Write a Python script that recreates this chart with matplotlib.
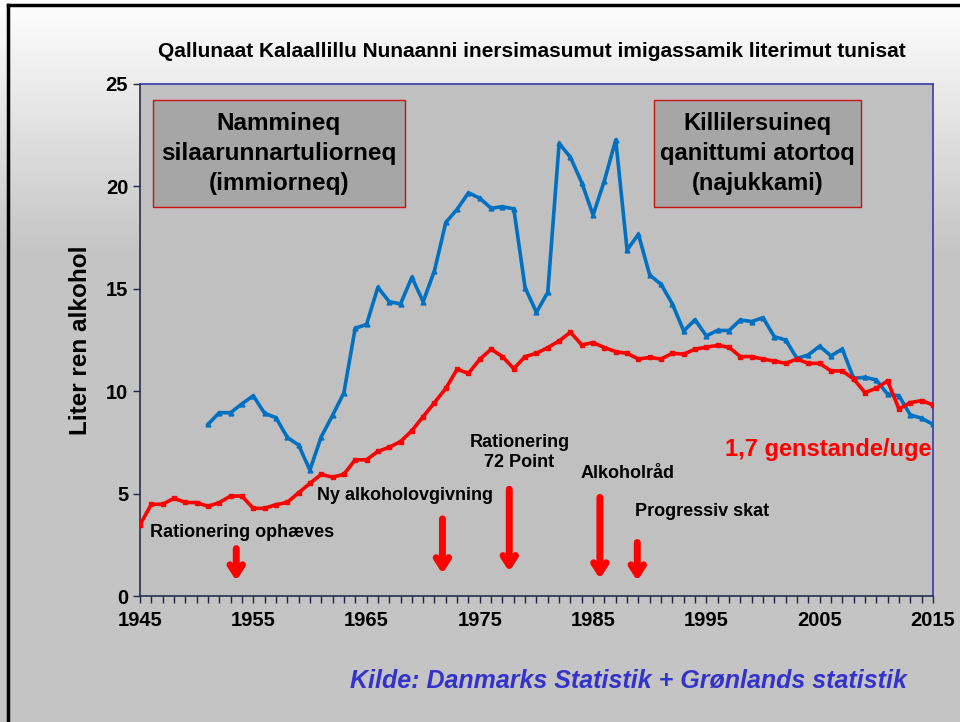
import numpy as np
import matplotlib
matplotlib.use("Agg")
import matplotlib.pyplot as plt
from matplotlib.patches import Rectangle
from matplotlib.lines import Line2D
from matplotlib.ticker import MultipleLocator

plt.rcParams['font.family'] = ['Liberation Sans', 'DejaVu Sans']

# data
years_total = list(range(1945, 2016))
total = [3.47, 4.48, 4.48, 4.77, 4.57, 4.56, 4.38, 4.56, 4.88, 4.88,
         4.28, 4.28, 4.46, 4.57, 5.04, 5.50, 5.94, 5.80, 5.94, 6.65,
         6.65, 7.06, 7.26, 7.54, 8.07, 8.76, 9.44, 10.14, 11.07, 10.87,
         11.56, 12.05, 11.69, 11.10, 11.69, 11.85, 12.13, 12.45, 12.88, 12.26,
         12.37, 12.13, 11.93, 11.85, 11.57, 11.65, 11.57, 11.85, 11.81, 12.05,
         12.15, 12.24, 12.14, 11.69, 11.69, 11.57, 11.47, 11.36, 11.57, 11.36,
         11.36, 10.99, 10.99, 10.60, 9.93, 10.14, 10.50, 9.13, 9.44, 9.54,
         9.33]

years_gl = list(range(1951, 2016))
greenland = [8.38, 8.95, 8.95, 9.38, 9.78, 8.92, 8.71, 7.75, 7.37, 6.15,
             7.77, 8.82, 9.92, 13.07, 13.26, 15.07, 14.37, 14.26, 15.56, 14.37,
             15.89, 18.24, 18.88, 19.69, 19.42, 18.93, 19.01, 18.90, 15.05, 13.85,
             14.83, 22.10, 21.42, 20.18, 18.60, 20.28, 22.27, 16.89, 17.66, 15.67,
             15.22, 14.26, 12.94, 13.49, 12.70, 12.97, 12.96, 13.48, 13.40, 13.59,
             12.66, 12.50, 11.60, 11.77, 12.20, 11.72, 12.06, 10.63, 10.68, 10.55,
             9.85, 9.78, 8.84, 8.68, 8.38]

# events: label, text pos (year, value), arrow year, arrow top, arrow tip
events = [
    ("Rationering ophæves", 1945.9, 3.1, 'left', 1953.5, 2.45, 0.6),
    ("Ny alkoholovgivning", 1968.4, 4.9, 'center', 1971.7, 3.9, 0.95),
    ("Rationering\n72 Point", 1978.5, 7.0, 'center', 1977.6, 5.35, 1.05),
    ("Alkoholråd", 1988.0, 6.0, 'center', 1985.6, 4.95, 0.7),
    ("Progressiv skat", 1994.6, 4.15, 'center', 1988.9, 2.75, 0.6),
]

fig = plt.figure(figsize=(9.6, 7.22), dpi=100)

# background gradient
bg = fig.add_axes([0, 0, 1, 1], zorder=-10)
grad = np.linspace(0, 1, 722)
shade = np.clip(grad / 0.35, 0, 1)
top_c = np.array([1.0, 1.0, 1.0])
bot_c = np.array([0.77, 0.77, 0.77])
img = top_c[None, :] * (1 - shade[:, None]) + bot_c[None, :] * shade[:, None]
bg.imshow(img[:, None, :], aspect='auto', extent=[0, 1, 0, 1])
bg.axis('off')

fig.add_artist(Line2D([0.008, 1.0], [0.9925, 0.9925], color='black', lw=2.5))
fig.add_artist(Line2D([0.0085, 0.0085], [0.0, 0.9925], color='black', lw=2.5))

ax = fig.add_axes([0.1458, 0.1745, 0.826, 0.7092])
ax.set_facecolor('#c0c0c0')

ax.plot(years_gl, greenland, color='#0070c0', lw=2.6, marker='^', ms=3.5, zorder=3)
ax.plot(years_total, total, color='#ff0000', lw=2.6, marker='s', ms=3.2, zorder=3)

ax.set_xlim(1945, 2015)
ax.set_ylim(0, 25)
ax.set_xticks(range(1945, 2016, 10))
ax.xaxis.set_minor_locator(MultipleLocator(1))
ax.set_yticks(range(0, 26, 5))
ax.tick_params(axis='both', which='both', direction='out', length=5, width=1,
               color='#222244', labelsize=14.5)
ax.tick_params(axis='x', pad=6)
for lab in ax.get_xticklabels() + ax.get_yticklabels():
    lab.set_fontweight('bold')

ax.spines['top'].set_color('#3a3aa8')
ax.spines['right'].set_color('#3a3aa8')
ax.spines['left'].set_color('#2a2a50')
ax.spines['bottom'].set_color('#2a2a50')
for s in ax.spines.values():
    s.set_linewidth(1.2)

ax.set_ylabel('Liter ren alkohol', fontsize=17.5, fontweight='bold', labelpad=10)

# boxes
ax.add_patch(Rectangle((0.0164, 0.760), 0.318, 0.209, transform=ax.transAxes,
                       facecolor='#a6a6a6', edgecolor='#cc1111', lw=1, zorder=2))
ax.text(0.175, 0.864, "Nammineq\nsilaarunnartuliorneq\n(immiorneq)", transform=ax.transAxes,
        ha='center', va='center', fontsize=17.5, fontweight='bold', linespacing=1.4, zorder=4)
ax.add_patch(Rectangle((0.648, 0.760), 0.261, 0.209, transform=ax.transAxes,
                       facecolor='#a6a6a6', edgecolor='#cc1111', lw=1, zorder=2))
ax.text(0.7785, 0.864, "Killilersuineq\nqanittumi atortoq\n(najukkami)", transform=ax.transAxes,
        ha='center', va='center', fontsize=17, fontweight='bold', linespacing=1.4, zorder=4)

for label, tx, ty, ha, axx, atop, atip in events:
    ax.text(tx, ty, label, ha=ha, va='center', fontsize=13, fontweight='bold',
            linespacing=1.2, zorder=4)
    ax.annotate('', xy=(axx, atip), xytext=(axx, atop),
                arrowprops=dict(arrowstyle='->, head_length=0.7, head_width=0.45',
                                color='red', lw=5), zorder=4)

ax.text(2014.9, 7.13, "1,7 genstande/uge", ha='right', va='center', color='#ff0000',
        fontsize=17, fontweight='bold', zorder=4)

fig.text(0.5536, 0.928, "Qallunaat Kalaallillu Nunaanni inersimasumut imigassamik literimut tunisat",
         ha='center', va='center', fontsize=15, fontweight='bold')
fig.text(0.655, 0.0568, "Kilde: Danmarks Statistik + Grønlands statistik", ha='center', va='center',
         fontsize=18, fontweight='bold', style='italic', color='#3333cc')

fig.savefig('out.png', dpi=100)
